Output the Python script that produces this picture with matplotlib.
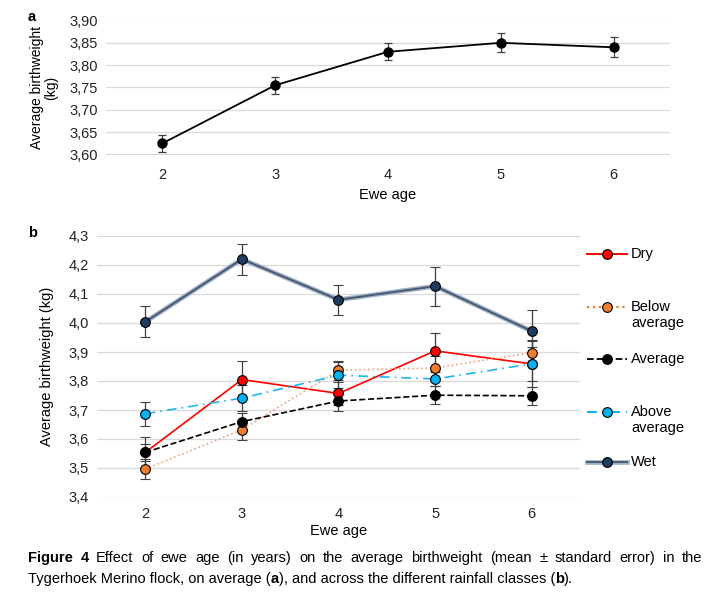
import matplotlib
matplotlib.use("Agg")
import matplotlib.pyplot as plt
from matplotlib.lines import Line2D
from matplotlib.ticker import FuncFormatter, MultipleLocator

plt.rcParams['font.family'] = ['Liberation Sans', 'DejaVu Sans']

# ~~~~~~~~~~~~~~~~~~~~ DATA ~~~~~~~~~~~~~~~~~~~~
ewe_age = [2, 3, 4, 5, 6]

# panel a - flock average
avg_all = [3.625, 3.755, 3.830, 3.850, 3.840]
avg_all_se = [0.019, 0.019, 0.019, 0.021, 0.022]

# panel b - rainfall classes
classes = ["Dry", "Below\naverage", "Average", "Above\naverage", "Wet"]
dry = [3.554, 3.805, 3.757, 3.904, 3.859]
dry_se = [0.054, 0.065, 0.040, 0.062, 0.080]
below = [3.496, 3.632, 3.837, 3.845, 3.898]
below_se = [0.035, 0.035, 0.032, 0.040, 0.042]
average = [3.554, 3.660, 3.731, 3.751, 3.749]
average_se = [0.030, 0.030, 0.033, 0.031, 0.032]
above = [3.687, 3.741, 3.820, 3.807, 3.859]
above_se = [0.042, 0.045, 0.045, 0.025, 0.058]
wet = [4.004, 4.220, 4.080, 4.127, 3.972]
wet_se = [0.053, 0.054, 0.051, 0.067, 0.073]

W, H = 718, 600
fig = plt.figure(figsize=(W / 100, H / 100), dpi=100)

comma = FuncFormatter(lambda v, p: ("%.2f" % v).replace(".", ","))
comma1 = FuncFormatter(lambda v, p: ("%.1f" % v).replace(".", ","))


def style_axes(ax):
    for s in ax.spines.values():
        s.set_visible(False)
    ax.grid(axis="y", color="#d9d9d9", lw=0.9)
    ax.set_axisbelow(True)
    ax.tick_params(length=0, labelsize=10.5, colors="#222222", pad=6)
    ax.set_xlim(1.5, 6.5)
    ax.set_xticks(ewe_age)


# ~~~~~~~~~~~~~~~~~~~~ PANEL a ~~~~~~~~~~~~~~~~~~~~
ax1 = fig.add_axes([106 / W, 1 - 154.5 / H, 564 / W, 134 / H])
style_axes(ax1)
ax1.set_ylim(3.60, 3.90)
ax1.yaxis.set_major_locator(MultipleLocator(0.05))
ax1.yaxis.set_major_formatter(comma)
ax1.errorbar(ewe_age, avg_all, yerr=avg_all_se, color="black", lw=1.3,
             marker="o", ms=6.5, ecolor="#404040", elinewidth=0.9, capsize=3,
             capthick=0.9)
ax1.set_xlabel("Ewe age", fontsize=10.5, labelpad=4)
ax1.set_ylabel("Average birthweight\n(kg)", fontsize=10, labelpad=8,
               linespacing=1.0)
ax1.tick_params(axis="x", pad=10)
fig.text(28 / W, 1 - 17 / H, "a", fontsize=10.5, fontweight="bold",
         va="center")

# ~~~~~~~~~~~~~~~~~~~~ PANEL b ~~~~~~~~~~~~~~~~~~~~
ax2 = fig.add_axes([97 / W, 1 - 497 / H, 483 / W, 261 / H])
style_axes(ax2)
ax2.set_ylim(3.4, 4.3)
ax2.yaxis.set_major_locator(MultipleLocator(0.1))
ax2.yaxis.set_major_formatter(comma1)
ax2.tick_params(axis="x", pad=7)

eb = dict(ecolor="#404040", elinewidth=0.9, capsize=3.5, capthick=0.9)
mk = dict(marker="o", ms=7, mec="black", mew=0.8)

series = [
    (dry, dry_se, dict(color="#ff0000", ls="-", lw=1.2, mfc="#ff0000")),
    (below, below_se, dict(color="#f4a27a", ls=":", lw=1.2, mfc="#ed7d31")),
    (average, average_se, dict(color="black", ls="--", lw=1.2, mfc="black")),
    (above, above_se, dict(color="#1fb4ee", ls=(0, (6, 3, 1, 3)), lw=1.2,
                           mfc="#00b0f0")),
]
for vals, se, st in series:
    ax2.errorbar(ewe_age, vals, yerr=se, **eb, **mk, **st)

# wet: double line look
ax2.plot(ewe_age, wet, color="#9fb0c6", lw=3.4, solid_capstyle="round")
ax2.errorbar(ewe_age, wet, yerr=wet_se, color="#44556e", lw=1.3,
             mfc="#1f3b5e", **eb, **mk)

ax2.set_xlabel("Ewe age", fontsize=10.5, labelpad=2)
ax2.set_ylabel("Average birthweight (kg)", fontsize=10.5, labelpad=10)
fig.text(28 / W, 1 - 233 / H, "b", fontsize=10.5, fontweight="bold",
         va="center")

# ~~~~~~~~~~~~~~~~~~~~ LEGEND ~~~~~~~~~~~~~~~~~~~~
leg_y = [254, 307, 359, 412, 462]
leg_styles = [
    dict(color="#ff0000", ls="-", lw=1.4, mfc="#ff0000"),
    dict(color="#ed7d31", ls=":", lw=1.6, mfc="#ed7d31"),
    dict(color="black", ls="--", lw=1.3, mfc="black"),
    dict(color="#00b0f0", ls=(0, (5, 3, 1, 3)), lw=1.4, mfc="#00b0f0"),
    None,
]
for lab, y, st in zip(classes, leg_y, leg_styles):
    yy = 1 - y / H
    xs = [587 / W, 627 / W]
    if st is None:
        fig.add_artist(Line2D(xs, [yy, yy], color="#9fb0c6", lw=3.4))
        fig.add_artist(Line2D(xs, [yy, yy], color="#44556e", lw=1.3))
        fig.add_artist(Line2D([607 / W], [yy], ls="none", mfc="#1f3b5e",
                              **mk))
    else:
        fig.add_artist(Line2D(xs, [yy, yy], **{k: v for k, v in st.items()
                                                if k != "mfc"}))
        fig.add_artist(Line2D([607 / W], [yy], ls="none", mfc=st["mfc"],
                              **mk))
    fig.text(631 / W, yy + 7 / H, lab, fontsize=10.5, va="top",
             linespacing=1.15)

# ~~~~~~~~~~~~~~~~~~~~ CAPTION ~~~~~~~~~~~~~~~~~~~~
fig.canvas.draw()
rend = fig.canvas.get_renderer()


def draw_words(words, y, x0, x1, size=10.5):
    # words: list of (text, weight), spread out to fill x0..x1 (justified)
    objs = [fig.text(0, y, t, fontsize=size, fontweight=w, va="baseline")
            for t, w in words]
    widths = [o.get_window_extent(rend).width for o in objs]
    gap = (x1 - x0 - sum(widths)) / (len(words) - 1)
    x = x0
    for o, wd in zip(objs, widths):
        o.set_x(x / W)
        x += wd + gap


line1 = [("Figure", "bold"), ("4", "bold")] + [
    (w, "normal") for w in
    "Effect of ewe age (in years) on the average birthweight (mean ± standard error) in the".split()]
draw_words(line1, 1 - 562 / H, 28, 702)

# second line with bold letters inside brackets
parts = [("Tygerhoek Merino flock, on average (", "normal"), ("a", "bold"),
         ("), and across the different rainfall classes (", "normal"),
         ("b", "bold"), (").", "normal")]
x = 28
for t, w in parts:
    o = fig.text(x / W, 1 - 583 / H, t, fontsize=10.5, fontweight=w,
                 va="baseline")
    x += o.get_window_extent(rend).width

fig.savefig("out.png", dpi=100)
